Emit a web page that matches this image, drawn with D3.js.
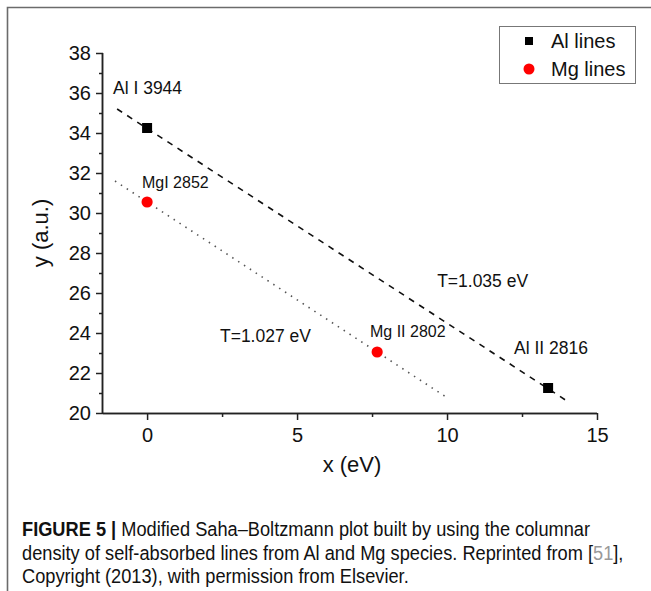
<!DOCTYPE html>
<html>
<head>
<meta charset="utf-8">
<script src="https://cdn.jsdelivr.net/npm/d3@7"></script>
<style>
  body { margin: 0; background: #fff; }
  svg text { font-family: "Liberation Sans", Arial, sans-serif; fill: #111; }
  .caption text { font-size: 19.5px; }
</style>
</head>
<body>
<svg id="chart" width="651" height="591"></svg>
<script>
// data
const alPoints = [{x: 0.0, y: 34.25, label: "Al I 3944"}, {x: 13.37, y: 21.25, label: "Al II 2816"}];
const mgPoints = [{x: 0.0, y: 30.55, label: "MgI 2852"}, {x: 7.67, y: 23.05, label: "Mg II 2802"}];
const alFit = [{x: -1.0, y: 35.2}, {x: 14.0, y: 20.6}];
const mgFit = [{x: -1.07, y: 31.6}, {x: 10.07, y: 20.7}];
const xTicks = [0, 5, 10, 15];
const yTicks = [20, 22, 24, 26, 28, 30, 32, 34, 36, 38];
const tempLabels = [{x: 9.67, y: 26.3, text: "T=1.035 eV"}, {x: 2.43, y: 23.55, text: "T=1.027 eV"}];

const svg = d3.select("#chart");

// panel frame (top and left edge)
svg.append("path")
  .attr("d", "M7.5,591 L7.5,7.5 L651,7.5")
  .attr("fill", "none").attr("stroke", "#6b6b6b").attr("stroke-width", 1.6);

const x = d3.scaleLinear().domain([-1.47, 15]).range([103, 597]);
const y = d3.scaleLinear().domain([20, 38]).range([413, 53]);

// x axis with minor ticks
const xAxisG = svg.append("g").attr("transform", "translate(0,413)");
xAxisG.call(d3.axisBottom(x).tickValues(xTicks).tickSize(7).tickPadding(8).tickFormat(d3.format("d")));
xAxisG.append("g").call(d3.axisBottom(x).tickValues([2.5, 7.5, 12.5]).tickSize(4).tickFormat(""));
xAxisG.selectAll(".domain").attr("d", "M103,0.5H597");

const yAxisG = svg.append("g").attr("transform", "translate(103,0)");
yAxisG.call(d3.axisLeft(y).tickValues(yTicks).tickSize(7).tickPadding(5));
yAxisG.append("g").call(d3.axisLeft(y).tickValues(d3.range(21, 38, 2)).tickSize(4).tickFormat(""));
yAxisG.selectAll(".domain").attr("d", "M-0.5,53V413");

svg.selectAll(".domain, .tick line").attr("stroke", "#222").attr("stroke-width", 1.5);
svg.selectAll(".tick text").style("font-size", "20px").attr("fill", "#111");

// axis titles
svg.append("text").attr("x", 352).attr("y", 472).attr("text-anchor", "middle")
  .style("font-size", "22px").text("x (eV)");
svg.append("text").attr("transform", "translate(48,233) rotate(-90)").attr("text-anchor", "middle")
  .style("font-size", "22px").text("y (a.u.)");

// fit lines
const line = d3.line().x(d => x(d.x)).y(d => y(d.y));
svg.append("path").datum(alFit).attr("d", line)
  .attr("fill", "none").attr("stroke", "#111").attr("stroke-width", 1.6).attr("stroke-dasharray", "6,6");
svg.append("path").datum(mgFit).attr("d", line)
  .attr("fill", "none").attr("stroke", "#555").attr("stroke-width", 1.6).attr("stroke-dasharray", "1.5,5.5");

// markers
svg.selectAll("rect.al").data(alPoints).enter().append("rect").attr("class", "al")
  .attr("x", d => x(d.x) - 5).attr("y", d => y(d.y) - 5).attr("width", 10).attr("height", 10).attr("fill", "#000");
svg.selectAll("circle.mg").data(mgPoints).enter().append("circle").attr("class", "mg")
  .attr("cx", d => x(d.x)).attr("cy", d => y(d.y)).attr("r", 5.6).attr("fill", "#ff0000");

// point labels
const alLabelPos = [[113, 94], [514, 354]];
svg.selectAll("text.allab").data(alPoints).enter().append("text").attr("class", "allab")
  .attr("x", (d, i) => alLabelPos[i][0]).attr("y", (d, i) => alLabelPos[i][1])
  .style("font-size", "17.5px").text(d => d.label);
const mgLabelPos = [[142, 188], [370, 337]];
svg.selectAll("text.mglab").data(mgPoints).enter().append("text").attr("class", "mglab")
  .attr("x", (d, i) => mgLabelPos[i][0]).attr("y", (d, i) => mgLabelPos[i][1])
  .style("font-size", "16px").attr("fill", "#222").text(d => d.label);

svg.selectAll("text.temp").data(tempLabels).enter().append("text").attr("class", "temp")
  .attr("x", d => x(d.x)).attr("y", d => y(d.y))
  .style("font-size", "17.5px").text(d => d.text);

// legend
const legend = svg.append("g");
legend.append("rect").attr("x", 499.5).attr("y", 26.5).attr("width", 136).attr("height", 57)
  .attr("fill", "#fff").attr("stroke", "#777").attr("stroke-width", 1);
legend.append("rect").attr("x", 525).attr("y", 37).attr("width", 8).attr("height", 8).attr("fill", "#000");
legend.append("circle").attr("cx", 529).attr("cy", 69).attr("r", 5.5).attr("fill", "#ff0000");
legend.append("text").attr("x", 551).attr("y", 48).style("font-size", "20px").text("Al lines");
legend.append("text").attr("x", 551).attr("y", 76).style("font-size", "20px").text("Mg lines");

// caption (condensed look by squeezing horizontally)
const cap = svg.append("g").attr("class", "caption").attr("transform", "translate(22,0) scale(0.935,1)");
const c1 = cap.append("text").attr("x", 0).attr("y", 536);
c1.append("tspan").style("font-weight", "bold").text("FIGURE 5 | ");
c1.append("tspan").text("Modified Saha\u2013Boltzmann plot built by using the columnar");
const c2 = cap.append("text").attr("x", 0).attr("y", 560);
c2.append("tspan").text("density of self-absorbed lines from Al and Mg species. Reprinted from [");
c2.append("tspan").style("fill", "#999").text("51");
c2.append("tspan").text("],");
cap.append("text").attr("x", 0).attr("y", 583).text("Copyright (2013), with permission from Elsevier.");
</script>
</body>
</html>
